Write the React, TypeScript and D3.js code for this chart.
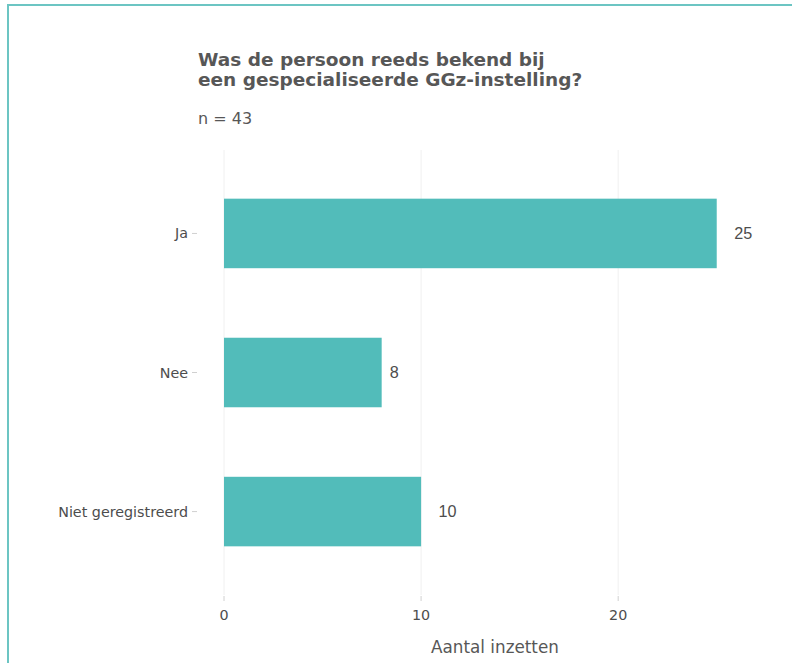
import React from "react";
import * as d3 from "d3";

const categories = ["Ja", "Nee", "Niet geregistreerd"];
const counts = [25, 8, 10];
const xTicks = [0, 10, 20];
const titleLines = ["Was de persoon reeds bekend bij", "een gespecialiseerde GGz-instelling?"];
const subtitle = "n = 43";
const xTitle = "Aantal inzetten";

const W = 792;
const H = 663;
const panel = { left: 224, right: 766, top: 150, bottom: 595 };
const barColor = "#52bcba";
const font = "'DejaVu Sans', sans-serif";

export default function App() {
  const x = d3.scaleLinear().domain([0, 27.5]).range([panel.left, panel.right]);
  const step = (panel.bottom - panel.top) / (categories.length - 1 + 2 * 0.6);
  const y = d3
    .scalePoint<string>()
    .domain(categories)
    .range([panel.top + 0.6 * step, panel.bottom - 0.6 * step]);
  const barH = step * 0.5;

  return (
    <svg
      width={W}
      height={H}
      style={{ position: "absolute", left: 0, top: 0, background: "#fff" }}
    >
      <rect x={8} y={5} width={W + 20} height={H + 20} fill="none" stroke="#6cc5c3" strokeWidth={2} />
      <g fontFamily={font}>
        {titleLines.map((t, i) => (
          <text key={t} x={198} y={66 + i * 19.5} fontSize={18.5} fontWeight="bold" fill="#575757">
            {t}
          </text>
        ))}
        <text x={198} y={124} fontSize={16} fill="#575757">
          {subtitle}
        </text>
        {xTicks.map((t) => (
          <line key={t} x1={x(t)} x2={x(t)} y1={panel.top} y2={panel.bottom} stroke="#f0f0f0" strokeWidth={1} />
        ))}
        {categories.map((c, i) => (
          <g key={c}>
            <rect x={x(0)} y={y(c)! - barH / 2} width={x(counts[i]) - x(0)} height={barH} fill={barColor} />
            <line x1={192} x2={197} y1={y(c)!} y2={y(c)!} stroke="#d0d0d0" />
            <text x={188} y={y(c)!} dy="0.35em" textAnchor="end" fontSize={14.3} fill="#4d4d4d">
              {c}
            </text>
            <text
              x={x(counts[i]) + 8 + 9.5 * (String(counts[i]).length - 1)}
              y={y(c)!}
              dy="0.36em"
              fontSize={16.2}
              fontFamily="'Liberation Sans', Arial, sans-serif"
              fill="#4d4d4d"
            >
              {counts[i]}
            </text>
          </g>
        ))}
        {xTicks.map((t) => (
          <g key={"t" + t}>
            <line x1={x(t)} x2={x(t)} y1={596} y2={601} stroke="#d0d0d0" />
            <text x={x(t)} y={620} textAnchor="middle" fontSize={14.3} fill="#4d4d4d">
              {t}
            </text>
          </g>
        ))}
        <text x={(panel.left + panel.right) / 2} y={653} textAnchor="middle" fontSize={16.8} fill="#575757">
          {xTitle}
        </text>
      </g>
    </svg>
  );
}
